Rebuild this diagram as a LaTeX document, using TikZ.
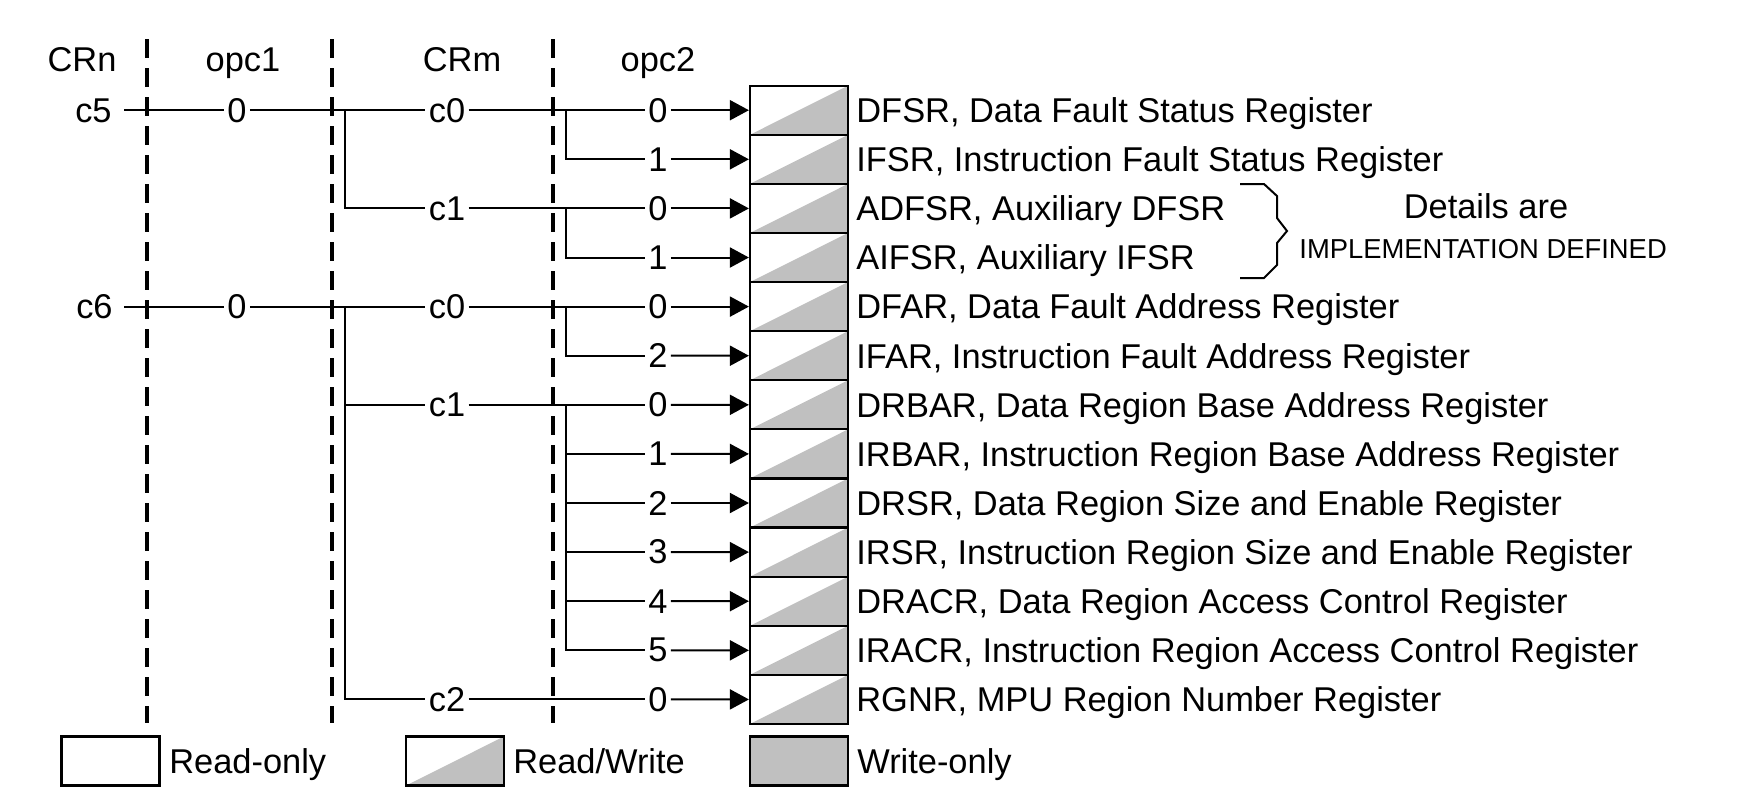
\documentclass[tikz,border=0pt]{standalone}
\usepackage{fontspec}
\setmainfont{Liberation Sans}
\usetikzlibrary{arrows.meta}
\definecolor{regfill}{RGB}{192,192,192}
\begin{document}
\begin{tikzpicture}[x=0.5pt,y=-0.5pt,
  font=\fontsize{17.2}{20}\selectfont,
  conn/.style={line width=1pt},
  tip/.style={conn,-{Triangle[length=9.5pt,width=10pt]}},
  divider/.style={line width=1.8pt,dash pattern=on 9.5pt off 5pt},
  lbl/.style={inner sep=1.5pt},
  boxbase/.style={draw,line width=1.1pt,minimum width=49pt,minimum height=24.55pt,inner sep=0pt},
  rwbox/.style={boxbase,
     path picture={\fill[regfill] (path picture bounding box.south west) -- (path picture bounding box.north east) -- (path picture bounding box.south east) -- cycle;}},
  robox/.style={boxbase,fill=white},
  wobox/.style={boxbase,fill=regfill},
  regtext/.style={anchor=west,inner sep=0pt,text height=12.3pt,text depth=0pt},
  head/.style={inner sep=0pt,text height=12.3pt,text depth=0pt},
]
\useasboundingbox (0,0) rectangle (1763,811);

% column headers
\node[head] (hcrn) at (82,59) {CRn};
\node[head] (hop1) at (243,59) {opc1};
\node[head] (hcrm) at (462,59) {CRm};
\node[head] (hop2) at (658,59) {opc2};

% column dividers
\foreach \x/\n in {147/d1,332/d2,553/d3} {
  \coordinate (\n t) at (\x,39);
  \coordinate (\n b) at (\x,723);
  \draw[divider] (\n t) -- (\n b);
}

% register stack
\foreach \i in {0,...,12} {
  \node[rwbox] (r\i) at (799,{110.2+49.1*\i}) {};
}

% register names
\foreach \i/\t in {
  0/{DFSR, Data Fault Status Register},
  1/{IFSR, Instruction Fault Status Register},
  2/{ADFSR, Auxiliary DFSR},
  3/{AIFSR, Auxiliary IFSR},
  4/{DFAR, Data Fault Address Register},
  5/{IFAR, Instruction Fault Address Register},
  6/{DRBAR, Data Region Base Address Register},
  7/{IRBAR, Instruction Region Base Address Register},
  8/{DRSR, Data Region Size and Enable Register},
  9/{IRSR, Instruction Region Size and Enable Register},
  10/{DRACR, Data Region Access Control Register},
  11/{IRACR, Instruction Region Access Control Register},
  12/{RGNR, MPU Region Number Register}} {
  \node[regtext] (t\i) at (856,{110.2+49.1*\i}) {\t};
}

% CRn = c5 tree
\node[head,anchor=east] (n5) at (112,110.2) {c5};
\coordinate (s5) at (124,110.2);
\node[lbl] (a5) at (237,110.2) {0};
\coordinate (b5) at (345,110.2);
\node[lbl] (m0) at (447,110.2) {c0};
\coordinate (p0) at (566,110.2);
\node[lbl] (o0) at (658,110.2) {0};
\node[lbl] (o1) at (658,159.3) {1};
\node[lbl] (m1) at (447,208.4) {c1};
\coordinate (p2) at (566,208.4);
\node[lbl] (o2) at (658,208.4) {0};
\node[lbl] (o3) at (658,257.5) {1};

\draw[conn] (s5) -- (a5) -- (b5) -- (m0) -- (p0) -- (o0);
\draw[tip] (o0) -- (r0);
\draw[conn] (p0) |- (o1);
\draw[tip] (o1) -- (r1);
\draw[conn] (b5) |- (m1) -- (p2) -- (o2);
\draw[tip] (o2) -- (r2);
\draw[conn] (p2) |- (o3);
\draw[tip] (o3) -- (r3);

% CRn = c6 tree
\node[head,anchor=east] (n6) at (113,306.6) {c6};
\coordinate (s6) at (124,306.6);
\node[lbl] (a6) at (237,306.6) {0};
\coordinate (b6) at (345,306.6);
\node[lbl] (m2) at (447,306.6) {c0};
\coordinate (p4) at (566,306.6);
\node[lbl] (o4) at (658,306.6) {0};
\node[lbl] (o5) at (658,355.7) {2};
\node[lbl] (m3) at (447,404.8) {c1};
\coordinate (p6) at (566,404.8);
\node[lbl] (o6) at (658,404.8) {0};
\node[lbl] (o7) at (658,453.9) {1};
\node[lbl] (o8) at (658,503.0) {2};
\node[lbl] (o9) at (658,552.1) {3};
\node[lbl] (o10) at (658,601.2) {4};
\node[lbl] (o11) at (658,650.3) {5};
\node[lbl] (m4) at (447,699.4) {c2};
\node[lbl] (o12) at (658,699.4) {0};

\draw[conn] (s6) -- (a6) -- (b6) -- (m2) -- (p4) -- (o4);
\draw[tip] (o4) -- (r4);
\draw[conn] (p4) |- (o5);
\draw[tip] (o5) -- (r5);
\draw[conn] (b6) |- (m3) -- (p6) -- (o6);
\draw[tip] (o6) -- (r6);
\foreach \k in {7,...,11} {
  \draw[conn] (p6) |- (o\k);
  \draw[tip] (o\k) -- (r\k);
}
\draw[conn] (b6) |- (m4) -- (o12);
\draw[tip] (o12) -- (r12);

% brace and note
\draw[conn,line join=miter] (1240,184) -- (1264,184) -- (1277,196) -- (1277,218) -- (1287,231)
  -- (1277,243) -- (1277,265) -- (1264,278) -- (1240,278);
\node[head] (det) at (1486,206) {Details are};
\node[head,anchor=west,font=\fontsize{13.7}{16}\selectfont,text height=9.8pt,text depth=0pt] (impl) at (1299,248.5) {IMPLEMENTATION DEFINED};

% legend
\node[robox] (k1) at (110.5,761) {};
\node[regtext] (k1t) at (169,761) {Read-only};
\node[rwbox] (k2) at (455,761) {};
\node[regtext] (k2t) at (513,761) {Read/Write};
\node[wobox] (k3) at (799,761) {};
\node[regtext] (k3t) at (857,761) {Write-only};
\end{tikzpicture}
\end{document}
